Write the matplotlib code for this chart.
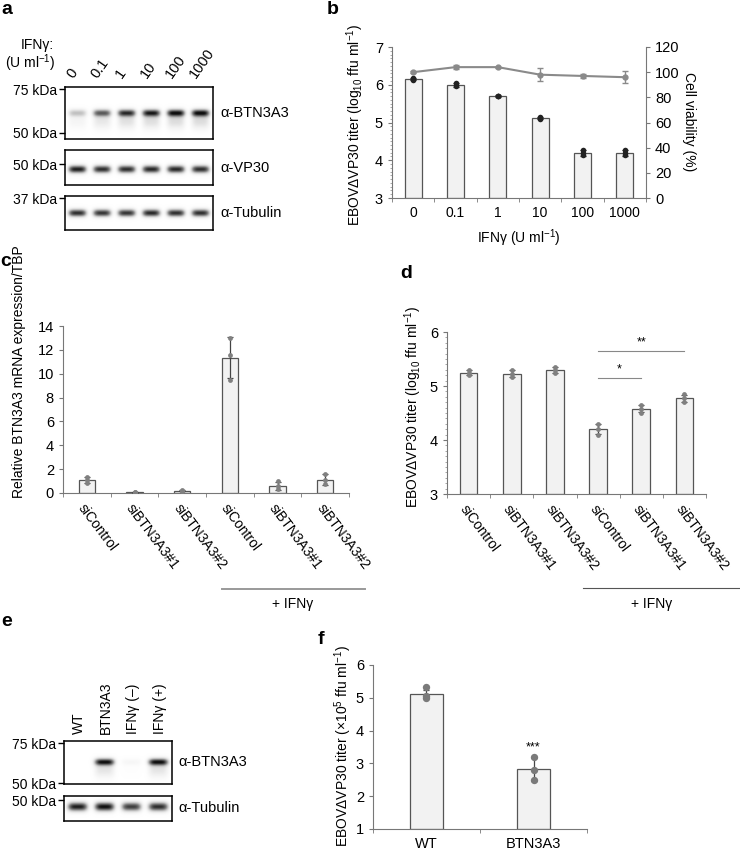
import numpy as np
import matplotlib
matplotlib.use('Agg')
import matplotlib.pyplot as plt
from matplotlib.lines import Line2D

plt.rcParams['font.family'] = ['Liberation Sans', 'DejaVu Sans']
plt.rcParams['mathtext.fontset'] = 'custom'
plt.rcParams['mathtext.rm'] = 'Liberation Sans'
plt.rcParams['mathtext.it'] = 'Liberation Sans:italic'
plt.rcParams['mathtext.bf'] = 'Liberation Sans:bold'
plt.rcParams['font.size'] = 10

W, H = 740, 852

# ---- data ----
# panel a: western blot band intensities (0-1)
a_lanes = ['0', '0.1', '1', '10', '100', '1000']
a_btn3a3 = [0.35, 0.70, 0.85, 0.90, 0.95, 0.95]
a_vp30 = [0.95, 0.90, 0.90, 0.92, 0.92, 0.90]
a_tubulin = [0.90, 0.88, 0.88, 0.92, 0.90, 0.90]

# panel b
b_doses = ['0', '0.1', '1', '10', '100', '1000']
b_titer = [6.15, 6.00, 5.70, 5.12, 4.20, 4.20]
b_titer_err = [0.03, 0.05, 0.02, 0.03, 0.08, 0.08]
b_titer_pts = [[6.17, 6.15, 6.13], [6.05, 6.00, 5.96], [5.71, 5.70, 5.69],
               [5.14, 5.12, 5.10], [4.28, 4.20, 4.13], [4.27, 4.20, 4.13]]
b_viab = [100, 104, 104, 98, 97, 96]
b_viab_err = [1.0, 1.5, 0.5, 5.0, 1.5, 5.0]

# panels c, d
si_labels = ['siControl', 'siBTN3A3#1', 'siBTN3A3#2',
             'siControl', 'siBTN3A3#1', 'siBTN3A3#2']
c_expr = [1.05, 0.05, 0.20, 11.35, 0.60, 1.13]
c_err = [0.25, 0.04, 0.06, 1.70, 0.35, 0.45]
c_pts = [[1.30, 1.05, 0.85], [0.10, 0.05, 0.02], [0.25, 0.20, 0.15],
         [13.0, 11.6, 9.5], [1.00, 0.55, 0.30], [1.60, 1.05, 0.75]]

d_titer = [5.25, 5.23, 5.30, 4.21, 4.58, 4.77]
d_err = [0.05, 0.06, 0.05, 0.09, 0.07, 0.07]
d_pts = [[5.30, 5.25, 5.20], [5.30, 5.23, 5.17], [5.35, 5.30, 5.25],
         [4.30, 4.20, 4.10], [4.65, 4.58, 4.50], [4.85, 4.77, 4.70]]
d_sig = [(3, 4, '*'), (3, 5, '**')]

# panel e
e_lanes = ['WT', 'BTN3A3', 'IFNγ (–)', 'IFNγ (+)']
e_btn3a3 = [0.0, 0.95, 0.07, 0.95]
e_tubulin = [0.95, 1.00, 0.85, 0.90]

# panel f
f_groups = ['WT', 'BTN3A3']
f_titer = [5.13, 2.82]
f_err = [0.12, 0.35]
f_pts = [[5.32, 5.05, 5.00], [3.20, 2.80, 2.50]]


def px_box(x0, y0, x1, y1):
    return [x0 / W, 1 - y1 / H, (x1 - x0) / W, (y1 - y0) / H]


def ftext(x, y, s, **kw):
    fig.text(x / W, 1 - y / H, s, **kw)


def blot(ax, levels, ypos, thick, smear=0.0, marks=(), width=0.37):
    n = len(levels)
    xs = np.linspace(0, n, n * 60)
    ys = np.linspace(0, 1, 200)
    X, Y = np.meshgrid(xs, ys)
    img = np.zeros_like(X)
    for i, lv in enumerate(levels):
        gx = np.exp(-(np.abs(X - (i + 0.5)) / width) ** 4)
        img += lv * gx * np.exp(-((Y - ypos) / thick) ** 2)
        if smear:
            img += lv * smear * gx * np.exp(-((Y - (ypos - 2.2 * thick)) / (2.2 * thick)) ** 2)
    ax.imshow(np.clip(img, 0, 1), extent=(0, n, 0, 1), origin='lower', cmap='Greys',
              vmin=0, vmax=1.05, aspect='auto', interpolation='bilinear')
    ax.set_xlim(0, n)
    ax.set_ylim(0, 1)
    ax.set_xticks([])
    ax.set_yticks([m[0] for m in marks])
    ax.set_yticklabels([m[1] for m in marks], fontsize=10)
    ax.tick_params(axis='y', length=4, width=1, pad=2)
    for s in ax.spines.values():
        s.set_linewidth(1.1)


def style_bar_axes(ax, n, ylim, minor=None):
    ax.set_xlim(-0.5, n - 0.5)
    ax.set_ylim(*ylim)
    for side in ['top', 'right']:
        ax.spines[side].set_visible(False)
    for side in ['left', 'bottom']:
        ax.spines[side].set_color('#777777')
        ax.spines[side].set_linewidth(0.8)
    ax.set_xticks(np.arange(n))
    ax.set_xticks(np.arange(n + 1) - 0.5, minor=True)
    ax.tick_params(axis='x', which='major', length=0, pad=6, labelsize=10)
    ax.tick_params(axis='x', which='minor', length=3, color='#777777')
    ax.tick_params(axis='y', which='major', length=3, color='#777777', labelsize=10.5)
    if minor:
        ax.set_yticks(np.arange(ylim[0], ylim[1] + 1e-9, minor), minor=True)
        ax.tick_params(axis='y', which='minor', length=1.5, color='#999999')


def bars(ax, vals, errs, pts, base, width, dot_color, dot_size=12, ecolor='#444444'):
    x = np.arange(len(vals))
    ax.bar(x, np.array(vals) - base, bottom=base, width=width, color='#f2f2f2',
           edgecolor='#555555', linewidth=0.9, zorder=2)
    ax.errorbar(x, vals, yerr=errs, fmt='none', ecolor=ecolor, elinewidth=0.9,
                capsize=2, capthick=0.9, zorder=3)
    for xi, p in zip(x, pts):
        ax.scatter([xi] * len(p), p, s=dot_size, color=dot_color, zorder=4, linewidths=0)


fig = plt.figure(figsize=(W / 100, H / 100), dpi=100)

# ---- panel a ----
ax_a1 = fig.add_axes(px_box(65, 87, 213, 139))
blot(ax_a1, a_btn3a3, 0.5, 0.07, smear=0.25, marks=[(0.96, '75 kDa'), (0.12, '50 kDa')])
ax_a2 = fig.add_axes(px_box(65, 150, 213, 185))
blot(ax_a2, a_vp30, 0.45, 0.11, marks=[(0.6, '50 kDa')])
ax_a3 = fig.add_axes(px_box(65, 196, 213, 230))
blot(ax_a3, a_tubulin, 0.5, 0.11, marks=[(0.94, '37 kDa')])
for i, lab in enumerate(a_lanes):
    ax_a1.text(i + 0.42, 1.13, lab, rotation=55, ha='left', va='bottom',
               rotation_mode='anchor', fontsize=10.5)
for ax, lab in [(ax_a1, 'α-BTN3A3'), (ax_a2, 'α-VP30'), (ax_a3, 'α-Tubulin')]:
    ax.text(1.05, 0.5, lab, transform=ax.transAxes, ha='left', va='center', fontsize=10.5)
ftext(54, 45, 'IFNγ:', ha='right', va='center', fontsize=10)
ftext(56, 63, r'(U ml$^{-1}$)', ha='right', va='center', fontsize=10)
ftext(1, 10, 'a', fontsize=14, fontweight='bold', va='center')

# ---- panel b ----
ax_b = fig.add_axes(px_box(392, 47, 646, 198))
bars(ax_b, b_titer, b_titer_err, b_titer_pts, 3, 0.4, '#222222', dot_size=16, ecolor='#222222')
style_bar_axes(ax_b, len(b_titer), (3, 7), minor=0.1)
ax_b.set_xticklabels(b_doses)
ax_b.set_yticks([3, 4, 5, 6, 7])
ax_b2 = ax_b.twinx()
ax_b2.errorbar(np.arange(len(b_viab)), b_viab, yerr=b_viab_err, color='#8a8a8a',
               marker='o', ms=3.5, lw=1.5, capsize=2, elinewidth=1, zorder=5)
ax_b2.set_ylim(0, 120)
ax_b2.set_yticks(np.arange(0, 121, 20))
ax_b2.tick_params(axis='y', length=3, color='#777777', labelsize=10.5)
for side in ['top', 'left', 'bottom']:
    ax_b2.spines[side].set_visible(False)
ax_b2.spines['right'].set_color('#777777')
ax_b2.spines['right'].set_linewidth(0.8)
ftext(355, 125, r'EBOVΔVP30 titer (log$_{10}$ ffu ml$^{-1}$)', rotation=90,
      ha='center', va='center', fontsize=10)
ftext(689, 122, 'Cell viability (%)', rotation=270, ha='center', va='center', fontsize=10)
ftext(519, 238, r'IFNγ (U ml$^{-1}$)', ha='center', va='center', fontsize=10)
ftext(327, 10, 'b', fontsize=14, fontweight='bold', va='center')

# ---- panel c ----
ax_c = fig.add_axes(px_box(63, 326, 349, 493))
bars(ax_c, c_expr, c_err, c_pts, 0, 0.34, '#808080')
style_bar_axes(ax_c, len(c_expr), (0, 14))
ax_c.set_yticks(np.arange(0, 15, 2))
ax_c.set_xticklabels(si_labels, rotation=-53, ha='left', rotation_mode='anchor')
ftext(19, 372, 'Relative BTN3A3 mRNA expression/TBP', rotation=90,
      ha='center', va='center', fontsize=10)
fig.add_artist(Line2D([222 / W, 365 / W], [1 - 589 / H, 1 - 589 / H],
                      color='#999999', lw=1.4))
ftext(293, 604, '+ IFNγ', ha='center', va='center', fontsize=10)
ftext(0, 262, 'c', fontsize=14, fontweight='bold', va='center')

# ---- panel d ----
ax_d = fig.add_axes(px_box(447, 332, 706, 494))
bars(ax_d, d_titer, d_err, d_pts, 3, 0.41, '#808080')
style_bar_axes(ax_d, len(d_titer), (3, 6), minor=0.1)
ax_d.set_yticks([3, 4, 5, 6])
ax_d.set_xticklabels(si_labels, rotation=-53, ha='left', rotation_mode='anchor')
sig_y = [5.15, 5.65]
for (i0, i1, mark), yy in zip(d_sig, sig_y):
    ax_d.plot([i0, i1], [yy, yy], color='#888888', lw=0.8, zorder=5)
    ax_d.text((i0 + i1) / 2, yy + 0.04, mark, ha='center', va='bottom', fontsize=9)
ftext(413, 407, r'EBOVΔVP30 titer (log$_{10}$ ffu ml$^{-1}$)', rotation=90,
      ha='center', va='center', fontsize=10)
fig.add_artist(Line2D([583 / W, 740 / W], [1 - 588 / H, 1 - 588 / H],
                      color='#555555', lw=0.8))
ftext(652, 604, '+ IFNγ', ha='center', va='center', fontsize=10)
ftext(400, 274, 'd', fontsize=14, fontweight='bold', va='center')

# ---- panel e ----
ax_e1 = fig.add_axes(px_box(64, 741, 172, 784))
blot(ax_e1, e_btn3a3, 0.5, 0.08, smear=0.2, marks=[(0.95, '75 kDa'), (0.02, '50 kDa')])
ax_e2 = fig.add_axes(px_box(64, 796, 172, 821))
blot(ax_e2, e_tubulin, 0.55, 0.17, marks=[(0.84, '50 kDa')])
for i, lab in enumerate(e_lanes):
    ax_e1.text(i + 0.55, 1.16, lab, rotation=90, ha='left', va='center',
               rotation_mode='anchor', fontsize=10)
for ax, lab in [(ax_e1, 'α-BTN3A3'), (ax_e2, 'α-Tubulin')]:
    ax.text(1.06, 0.5, lab, transform=ax.transAxes, ha='left', va='center', fontsize=10.5)
ftext(1, 621, 'e', fontsize=14, fontweight='bold', va='center')

# ---- panel f ----
ax_f = fig.add_axes(px_box(373, 665, 587, 829))
bars(ax_f, f_titer, f_err, f_pts, 1, 0.31, '#7a7a7a', dot_size=28)
style_bar_axes(ax_f, len(f_titer), (1, 6))
ax_f.set_yticks([1, 2, 3, 4, 5, 6])
ax_f.set_xticklabels(f_groups, fontsize=10.5)
ax_f.text(1, f_titer[1] + f_err[1] + 0.12, '***', ha='center', va='bottom', fontsize=9)
ftext(343, 746, r'EBOVΔVP30 titer ($\times$10$^5$ ffu ml$^{-1}$)', rotation=90,
      ha='center', va='center', fontsize=10)
ftext(318, 640, 'f', fontsize=14, fontweight='bold', va='center')

fig.savefig('out.png', dpi=100)
